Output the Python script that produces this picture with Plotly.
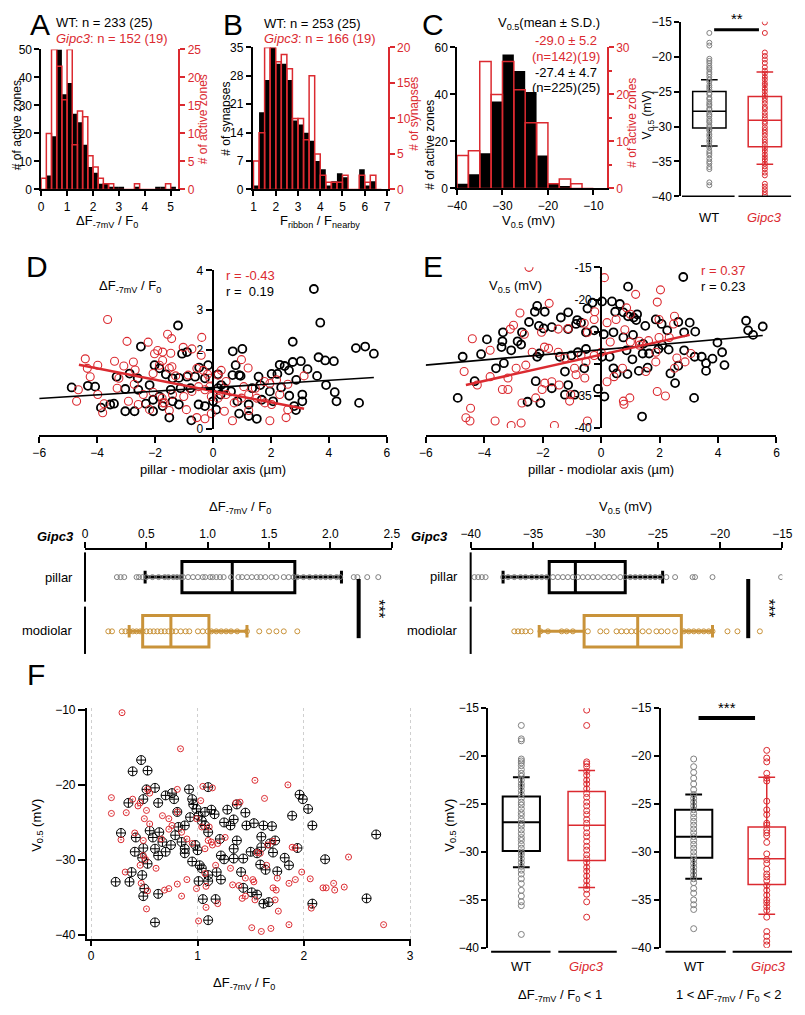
import plotly.graph_objects as go

W, H = 805, 1015
RED = "#DB2A30"
GOLD = "#C9933A"
GRAY = "#808080"
FONT = "Arial, Liberation Sans, sans-serif"

# ---------------- data ----------------
# A: dF/F0 histogram (bin centres, counts)
A_bins = [0.1, 0.3, 0.5, 0.7, 0.9, 1.1, 1.3, 1.5, 1.7, 1.9, 2.1, 2.3, 2.5, 2.7, 2.9, 3.1,
          3.3, 3.5, 3.7, 3.9, 4.1, 4.3, 4.5, 4.7, 4.9, 5.1]
A_wt = [0, 5, 19, 50, 34, 38, 27, 24, 16, 8, 6, 2, 2, 1, 1, 1, 0, 0, 1, 0, 0, 0, 1, 1, 0, 1]
A_ko = [2, 10, 25, 22, 16, 25, 8, 14, 13, 6, 4, 2, 1, 1, 0, 0, 0, 0, 1, 0, 0, 0, 0, 0, 1, 0]

# B: F_ribbon / F_nearby histogram
B_bins = [1.125, 1.375, 1.625, 1.875, 2.125, 2.375, 2.625, 2.875, 3.125, 3.375, 3.625, 3.875,
          4.125, 4.375, 4.625, 4.875, 5.125, 5.375, 5.625, 5.875, 6.125, 6.375, 6.625]
B_wt = [1, 19, 27, 35, 31, 31, 27, 17, 16, 14, 12, 7, 5, 1, 2, 4, 3, 0, 0, 5, 1, 2, 0]
B_ko = [4, 8, 20, 20, 18, 19, 17, 10, 10, 7, 16, 5, 2, 1, 1, 1, 2, 0, 0, 2, 1, 2, 0]

# C: V0.5 histogram
C_bins = [-38.75, -36.25, -33.75, -31.25, -28.75, -26.25, -23.75, -21.25, -18.75, -16.25, -13.75, -11.25]
C_wt = [2, 6, 15, 37, 57, 50, 41, 14, 2, 1, 0, 0]
C_ko = [7, 8, 27, 20, 27, 21, 14, 14, 1, 2, 1, 0]

# C right: box stats (q1, median, q3, lower whisker, upper whisker) and points
CB_wt_stats = [-30.2, -27.8, -25.0, -32.8, -23.3]
CB_ko_stats = [-32.9, -29.1, -25.7, -35.4, -22.2]
CB_wt_pts = [-16.6, -18.0, -18.4, -20.3, -20.6, -20.9, -21.3, -21.6, -21.8, -22.2, -22.5, -22.9,
             -23.3, -23.6, -24.1, -24.4, -24.7, -25.2, -25.4, -25.9, -26.1, -26.5, -26.8, -27.0,
             -27.4, -27.6, -28.0, -28.3, -28.5, -28.9, -29.2, -29.4, -29.8, -30.1, -30.4, -30.6,
             -31.1, -31.4, -31.9, -32.2, -32.7, -33.0, -33.5, -33.8, -34.1, -34.6, -35.0, -35.3,
             -35.8, -36.1, -38.0, -38.4]
CB_ko_pts = [-15.1, -16.6, -19.4, -19.9, -20.4, -20.9, -21.5, -22.0, -22.4, -22.9, -23.3, -23.8,
             -24.1, -24.6, -25.0, -25.5, -25.9, -26.3, -26.7, -27.2, -27.5, -28.0, -28.4, -28.8,
             -29.3, -29.6, -30.1, -30.5, -30.9, -31.3, -31.8, -32.2, -32.6, -33.1, -33.5, -34.0,
             -34.4, -34.8, -35.3, -35.7, -36.1, -36.6, -37.0, -38.2, -38.6, -39.0, -39.4, -39.8]

# D: dF/F0 vs pillar-modiolar position (x, y)
D_wt = [(-1.21, 2.61), (3.48, 3.53), (3.70, 2.68), (2.75, 2.20), (4.93, 2.04), (5.25, 2.08), (5.55, 1.90),
        (3.64, 1.81), (3.87, 1.73), (4.17, 1.71), (1.01, 2.02), (0.68, 1.96), (-2.49, 2.08), (-0.90, 1.94),
        (-1.07, 1.90), (-0.17, 1.61), (-0.48, 1.55), (-2.02, 1.61), (-1.85, 1.53), (2.75, 1.69), (3.03, 1.71),
        (2.30, 1.62), (2.47, 1.59), (2.22, 1.39), (2.02, 1.39), (0.17, 1.38), (0.78, 1.61), (0.95, 1.34),
        (1.57, 1.32), (2.62, 1.48), (2.87, 1.24), (3.26, 1.51), (3.59, 1.34), (3.90, 1.11), (4.20, 0.93),
        (4.26, 0.70), (5.04, 0.66), (-4.88, 1.05), (-4.32, 1.09), (-4.07, 1.07), (-3.33, 1.32), (-2.88, 1.40),
        (-2.60, 1.28), (-3.03, 1.01), (-2.58, 0.99), (-2.19, 1.11), (-1.63, 1.38), (-1.40, 1.28), (-1.18, 1.29),
        (-0.90, 1.32), (-0.62, 1.32), (-0.28, 1.28), (-1.12, 1.03), (-0.78, 1.03), (-1.46, 0.99), (-1.85, 0.82),
        (-2.07, 0.74), (-3.87, 0.54), (-3.55, 0.62), (-3.42, 0.64), (-3.03, 0.45), (-2.71, 0.45), (-2.32, 0.64),
        (-2.07, 0.45), (-1.74, 0.58), (-1.51, 0.29), (-1.40, 0.70), (-1.18, 0.62), (-0.75, 0.22), (-0.50, 0.62),
        (-0.28, 0.58), (0.00, 0.70), (0.11, 0.49), (0.26, 0.87), (0.39, 1.03), (0.62, 0.95), (0.84, 0.70),
        (0.90, 0.39), (1.23, 0.33), (1.51, 0.26), (1.23, 0.62), (1.68, 0.74), (1.96, 0.95), (2.35, 1.05),
        (2.63, 0.84), (3.08, 0.87), (3.08, 0.70), (2.86, 0.48), (2.80, 0.58), (2.07, 0.70), (1.35, 1.03),
        (1.63, 1.11), (0.17, 1.03), (0.28, 1.11), (0.67, 1.36), (0.90, 1.36)]
D_ko = [(-3.64, 2.76), (-2.97, 2.21), (-2.24, 2.19), (-1.57, 2.39), (-1.43, 2.28), (-0.39, 2.31), (-1.91, 1.98),
        (-1.74, 1.94), (-2.02, 1.90), (-1.46, 1.91), (-1.03, 2.06), (-0.73, 2.02), (-0.41, 1.86), (0.98, 1.75),
        (-4.41, 1.77), (-4.34, 1.53), (-4.24, 1.32), (-3.98, 1.61), (-3.40, 1.71), (-3.08, 1.59), (-2.75, 1.69),
        (-2.69, 1.49), (-2.07, 1.40), (-1.85, 1.61), (-1.74, 1.73), (-1.51, 1.53), (-1.42, 1.57), (-1.29, 1.34),
        (-0.86, 1.36), (-0.56, 1.53), (-0.34, 1.48), (-0.19, 1.38), (-0.11, 1.28), (0.17, 1.36), (0.28, 1.48),
        (1.21, 1.54), (1.77, 1.20), (2.19, 1.24), (2.58, 1.13), (3.14, 1.34), (-4.65, 0.99), (-4.71, 0.70),
        (-3.31, 1.03), (-3.25, 1.28), (-2.72, 1.13), (-2.41, 0.87), (-2.07, 0.93), (-1.76, 0.78), (-1.68, 0.66),
        (-1.40, 0.87), (-1.01, 0.82), (-0.73, 0.95), (-0.50, 1.07), (-0.28, 0.99), (-0.06, 0.82), (0.17, 0.78),
        (0.45, 0.87), (0.73, 0.66), (0.98, 0.78), (1.23, 0.87), (1.51, 0.78), (1.79, 0.66), (2.02, 0.62),
        (2.30, 0.87), (2.58, 0.49), (2.52, 0.29), (1.96, 0.21), (1.23, 0.47), (0.67, 0.21), (0.39, 0.45),
        (-0.06, 0.39), (-0.28, 0.26), (-0.56, 0.29), (-0.92, 0.49), (-1.51, 0.47), (-1.74, 0.66), (-2.19, 0.49),
        (-2.58, 0.62), (-2.92, 0.70), (-3.81, 0.41), (-3.76, 0.64), (-3.98, 0.87), (-0.11, 1.07), (0.45, 1.20),
        (1.06, 1.07), (1.46, 1.03), (1.96, 1.15)]
D_fit_wt = [(-6.0, 0.77), (5.55, 1.30)]
D_fit_ko = [(-4.63, 1.62), (3.14, 0.51)]

# E: V0.5 vs pillar-modiolar position
E_wt = [(2.81, -16.5), (0.92, -18.0), (-2.19, -21.0), (-2.27, -21.9), (-1.93, -21.9), (-0.30, -20.5), (0.03, -20.3),
        (0.37, -20.3), (0.64, -20.7), (-0.47, -21.4), (0.48, -21.9), (0.76, -22.0), (0.92, -22.6), (1.11, -22.8),
        (1.23, -22.3), (1.20, -23.2), (-1.13, -22.0), (-1.38, -22.8), (-0.82, -23.2), (-0.69, -23.6), (-2.47, -23.5),
        (-2.13, -24.1), (-1.97, -24.5), (-1.69, -24.3), (-3.36, -25.1), (-2.71, -25.1), (-3.91, -26.2), (-3.38, -26.5),
        (-2.86, -26.5), (-2.74, -27.0), (-3.08, -27.9), (-3.41, -27.4), (-4.11, -28.5), (-4.74, -28.9), (-2.19, -28.9),
        (-2.11, -28.4), (-1.13, -24.6), (-0.86, -23.8), (-0.52, -25.1), (-0.24, -24.8), (0.09, -25.4), (0.42, -25.1),
        (0.76, -25.9), (1.09, -25.5), (1.51, -24.1), (1.44, -26.9), (1.87, -23.1), (2.07, -23.8), (2.26, -24.8),
        (2.64, -23.5), (3.03, -23.6), (3.22, -25.0), (2.84, -25.1), (2.09, -27.1), (2.31, -27.8), (2.84, -27.9),
        (3.20, -28.9), (3.44, -28.9), (3.81, -29.2), (4.14, -28.2), (3.59, -29.9), (3.59, -31.1), (4.22, -30.2),
        (4.96, -23.3), (5.03, -24.8), (5.53, -24.2), (5.20, -25.5), (3.98, -26.7), (2.64, -30.3), (2.37, -31.5),
        (2.53, -33.0), (3.18, -35.3), (1.40, -38.2), (-4.33, -32.7), (-4.91, -35.3), (-3.60, -30.7), (-3.33, -29.9),
        (-2.52, -35.9), (-2.08, -36.1), (-2.24, -32.7), (-1.69, -33.8), (-1.24, -31.2), (-1.13, -33.3), (-0.91, -34.8),
        (-1.24, -34.8), (-0.52, -27.7), (-0.11, -33.9), (0.11, -35.1), (-0.80, -28.2), (-1.02, -28.7), (-1.41, -28.9),
        (0.03, -28.9), (0.29, -28.9), (0.42, -30.7), (0.53, -31.5), (0.90, -31.6), (1.29, -31.1), (1.59, -30.6),
        (0.87, -27.9), (1.07, -29.3), (1.42, -28.4), (1.64, -28.4), (1.96, -27.7), (-0.58, -30.7)]
E_ko = [(-2.47, -15.0), (0.11, -16.6), (1.18, -19.2), (2.03, -18.5), (1.92, -20.4), (-1.78, -20.6), (0.87, -21.3),
        (1.00, -22.3), (-0.22, -21.9), (2.51, -22.6), (1.98, -23.1), (-2.78, -22.1), (-3.00, -24.0), (-3.11, -24.6),
        (-4.41, -26.1), (-3.80, -27.9), (-2.63, -25.4), (-2.04, -25.1), (-1.47, -24.6), (-1.13, -24.5), (-0.58, -23.7),
        (-0.47, -25.1), (-0.24, -23.1), (0.20, -23.6), (0.51, -23.1), (0.81, -24.7), (1.31, -26.5), (1.62, -26.4),
        (1.98, -25.9), (2.33, -25.9), (2.48, -23.8), (2.59, -29.1), (1.87, -28.2), (1.87, -29.7), (2.87, -29.7),
        (3.07, -28.4), (0.31, -26.6), (0.00, -28.2), (-0.24, -28.7), (-0.52, -29.7), (-0.69, -28.7), (-0.91, -30.7),
        (-1.24, -29.1), (-1.47, -28.2), (-1.80, -27.6), (-1.94, -27.4), (-2.36, -28.2), (-2.58, -30.2), (-2.91, -30.7),
        (-3.19, -32.2), (-3.38, -34.0), (-3.19, -34.0), (-3.80, -32.0), (-4.24, -33.3), (-4.69, -31.2), (-4.47, -36.9),
        (-4.63, -38.4), (-4.49, -38.9), (-3.63, -38.9), (-3.08, -39.6), (-2.74, -39.2), (-2.71, -36.1), (-2.24, -35.3),
        (-2.02, -34.0), (-1.93, -33.0), (-1.69, -32.8), (-1.44, -33.3), (-1.08, -35.8), (-1.04, -34.8), (-1.60, -39.6),
        (-0.47, -38.9), (-0.86, -31.7), (-0.56, -32.2), (0.20, -32.8), (0.44, -32.0), (0.73, -30.7), (0.76, -35.8),
        (0.78, -36.3), (0.98, -35.3), (1.92, -34.3), (2.20, -35.0), (2.51, -30.7), (1.53, -31.2), (1.00, -26.6),
        (1.31, -27.1)]
E_fit_wt = [(-6.02, -30.2), (5.53, -25.6)]
E_fit_ko = [(-4.63, -33.3), (3.03, -25.5)]

# D/E lower: pillar vs modiolar (Gipc3) box stats and points
DB_pil_stats = [0.79, 1.20, 1.71, 0.49, 2.09]
DB_mod_stats = [0.47, 0.70, 1.01, 0.36, 1.32]
DB_pil_pts = [0.26, 0.29, 0.32, 0.42, 0.44, 0.47, 0.50, 0.55, 0.60, 0.65, 0.68, 0.72, 0.75, 0.78, 0.80, 0.84,
              0.88, 0.92, 0.96, 0.98, 1.02, 1.04, 1.07, 1.10, 1.13, 1.19, 1.25, 1.28, 1.32, 1.36, 1.40, 1.43,
              1.47, 1.52, 1.56, 1.62, 1.66, 1.70, 1.73, 1.78, 1.83, 1.88, 1.92, 1.96, 2.00, 2.05, 2.08, 2.19,
              2.22, 2.30, 2.39]
DB_mod_pts = [0.19, 0.22, 0.30, 0.33, 0.36, 0.39, 0.42, 0.45, 0.47, 0.50, 0.53, 0.56, 0.59, 0.62, 0.65, 0.68,
              0.71, 0.74, 0.78, 0.82, 0.85, 0.92, 0.96, 1.00, 1.03, 1.07, 1.11, 1.15, 1.19, 1.24, 1.32, 1.42,
              1.50, 1.56, 1.62, 1.73]
EB_pil_stats = [-33.7, -31.6, -27.6, -37.4, -24.6]
EB_mod_stats = [-30.9, -26.6, -23.1, -34.5, -20.6]
EB_pil_pts = [-39.7, -39.4, -39.1, -38.8, -37.4, -37.0, -36.5, -36.0, -35.6, -35.1, -34.7, -34.3, -33.9, -33.4,
              -33.0, -32.6, -32.2, -31.8, -31.4, -31.0, -30.6, -30.2, -29.8, -29.3, -28.9, -28.5, -28.0, -27.6,
              -27.2, -26.8, -26.4, -26.0, -25.6, -25.2, -24.8, -24.3, -23.6, -22.2, -22.0, -20.6, -15.1]
EB_mod_pts = [-36.5, -36.2, -35.9, -35.6, -35.2, -34.4, -33.8, -32.7, -32.3, -31.8, -30.6, -29.6, -29.1, -28.3,
              -27.9, -27.5, -27.1, -26.7, -26.2, -25.7, -25.1, -24.7, -24.2, -23.6, -22.9, -22.5, -22.1, -21.7,
              -21.3, -20.9, -20.6, -19.4, -18.6, -16.8]

# F: V0.5 vs dF/F0
F_wt = [(0.47, -16.7), (0.39, -18.2), (0.53, -18.1), (0.35, -22.4), (0.49, -21.9), (0.52, -20.6), (0.60, -20.4),
        (0.92, -20.6), (1.10, -20.3), (0.63, -22.4), (0.70, -21.4), (0.76, -21.1), (0.78, -21.9), (0.95, -21.9),
        (0.96, -22.6), (0.99, -23.2), (1.07, -23.6), (1.13, -23.3), (1.16, -23.9), (1.28, -23.3), (1.37, -22.6),
        (1.45, -23.7), (1.34, -24.6), (1.25, -25.0), (1.31, -25.4), (1.53, -25.1), (1.62, -25.4), (1.70, -25.5),
        (1.46, -25.4), (1.89, -24.1), (1.96, -21.3), (1.99, -21.9), (2.04, -23.2), (2.08, -25.4), (2.68, -26.6),
        (0.28, -26.4), (0.42, -27.0), (0.41, -28.9), (0.49, -28.4), (0.48, -29.7), (0.38, -31.6), (0.23, -32.9),
        (0.36, -32.9), (0.48, -32.0), (0.49, -34.8), (0.50, -33.8), (0.63, -34.5), (0.60, -38.3), (0.55, -26.1),
        (0.58, -27.0), (0.64, -26.3), (0.67, -27.6), (0.60, -28.5), (0.53, -30.5), (0.63, -29.4), (0.70, -28.9),
        (0.75, -28.0), (0.79, -26.7), (0.82, -25.6), (0.88, -25.4), (0.93, -24.3), (1.01, -24.1), (1.04, -24.8),
        (1.07, -25.4), (1.10, -26.3), (0.81, -23.6), (0.85, -27.6), (0.88, -29.1), (0.88, -28.5), (0.98, -28.0),
        (1.00, -28.7), (0.95, -30.2), (1.02, -30.7), (1.04, -31.1), (1.10, -32.0), (1.01, -32.8), (1.10, -32.8),
        (1.22, -32.6), (1.18, -31.6), (1.05, -35.2), (1.17, -35.2), (1.10, -38.0), (1.21, -27.2), (1.22, -29.4),
        (1.25, -29.9), (1.34, -29.8), (1.34, -28.5), (1.37, -27.4), (1.43, -29.8), (1.41, -31.6), (1.43, -33.7),
        (1.51, -34.3), (1.56, -34.6), (1.60, -26.9), (1.60, -28.3), (1.56, -29.1), (1.50, -28.9), (1.59, -30.6),
        (1.64, -31.3), (1.62, -35.8), (1.67, -35.6), (1.75, -31.5), (1.71, -29.0), (1.68, -27.8), (1.73, -27.4),
        (1.82, -29.7), (1.86, -30.7), (1.94, -28.4), (2.20, -29.9), (2.08, -35.8), (2.59, -35.1)]
F_ko = [(0.29, -10.4), (0.84, -15.2), (1.54, -19.4), (1.85, -20.0), (0.19, -21.7), (0.19, -23.8), (0.33, -23.7),
        (0.39, -21.9), (0.46, -22.4), (0.44, -22.8), (0.53, -20.6), (0.55, -21.1), (0.81, -20.6), (1.03, -22.1),
        (1.05, -20.2), (1.14, -20.4), (1.40, -22.3), (1.63, -21.8), (0.28, -27.3), (0.41, -26.4), (0.49, -27.4),
        (0.52, -23.4), (0.50, -24.5), (0.55, -25.2), (0.49, -29.4), (0.51, -29.9), (0.46, -30.7), (0.32, -31.6),
        (0.47, -33.1), (0.53, -34.1), (0.52, -36.5), (0.61, -31.1), (0.69, -34.0), (0.73, -33.8), (0.81, -33.2),
        (0.85, -34.8), (0.90, -32.6), (0.66, -27.2), (0.67, -24.1), (0.73, -24.5), (0.76, -25.4), (0.73, -25.9),
        (0.81, -23.6), (0.85, -26.3), (0.90, -27.2), (0.95, -27.8), (0.99, -24.5), (1.04, -25.6), (1.07, -28.5),
        (1.10, -27.4), (1.14, -28.0), (1.19, -27.8), (1.17, -30.7), (1.07, -31.8), (0.99, -33.8), (1.08, -33.5),
        (1.08, -36.3), (1.19, -35.8), (1.01, -38.1), (1.11, -25.6), (1.26, -27.0), (1.31, -31.1), (1.33, -33.3),
        (1.39, -33.4), (1.42, -35.1), (1.45, -34.8), (1.45, -32.4), (1.52, -32.6), (1.53, -32.9), (1.54, -35.3),
        (1.51, -39.0), (1.60, -39.5), (1.69, -39.1), (1.59, -29.1), (1.65, -30.7), (1.71, -33.7), (1.74, -34.0),
        (1.75, -32.4), (1.73, -35.3), (1.76, -36.8), (1.86, -33.1), (1.92, -32.6), (1.86, -38.6), (1.98, -31.6),
        (2.06, -32.5), (2.07, -36.4), (2.18, -33.7), (2.21, -33.7), (2.28, -33.1), (2.29, -34.0), (2.38, -33.6),
        (2.42, -29.6), (2.75, -38.6), (1.89, -28.3), (1.92, -28.4), (1.66, -28.0), (1.71, -27.5), (1.56, -29.0),
        (1.36, -22.4), (1.13, -27.6)]

# F boxes: dF/F0 < 1 and 1 < dF/F0 < 2
F1_wt_stats = [-29.9, -26.9, -24.2, -31.6, -22.2]
F1_ko_stats = [-30.9, -27.2, -23.7, -33.7, -21.5]
F1_wt_pts = [-16.8, -18.2, -18.4, -20.3, -20.5, -20.7, -21.0, -21.4, -21.8, -22.1, -22.5, -22.9, -23.2, -23.6,
             -24.0, -24.4, -24.8, -25.1, -25.5, -25.9, -26.2, -26.6, -27.0, -27.3, -27.7, -28.1, -28.5, -28.8,
             -29.2, -29.6, -30.0, -30.3, -30.7, -31.1, -31.5, -31.9, -32.3, -32.8, -33.3, -34.0, -34.6, -35.2,
             -35.6, -38.6]
F1_ko_pts = [-15.2, -16.8, -20.6, -20.8, -21.1, -21.6, -22.0, -22.5, -22.9, -23.4, -23.9, -24.3, -24.8, -25.2,
             -25.7, -26.1, -26.6, -27.0, -27.5, -28.0, -28.4, -28.9, -29.4, -29.8, -30.3, -30.7, -31.1, -31.6,
             -32.0, -32.5, -33.0, -33.5, -33.9, -34.4, -35.2, -36.8]
F2_wt_stats = [-30.6, -28.4, -25.6, -32.8, -24.0]
F2_ko_stats = [-33.4, -30.7, -27.4, -36.5, -22.2]
F2_wt_pts = [-20.3, -21.1, -21.7, -22.3, -22.9, -23.5, -24.0, -24.4, -24.8, -25.2, -25.6, -26.0, -26.4, -26.8,
             -27.2, -27.6, -28.0, -28.4, -28.8, -29.2, -29.6, -30.0, -30.4, -30.8, -31.2, -31.6, -32.0, -32.4,
             -32.8, -33.2, -33.8, -34.3, -35.0, -35.5, -36.0, -38.0]
F2_ko_pts = [-19.4, -20.2, -20.6, -21.8, -22.3, -22.6, -24.7, -25.6, -26.1, -27.0, -27.2, -27.7, -28.0, -28.3,
             -29.0, -30.2, -30.8, -31.2, -31.8, -32.3, -32.6, -33.0, -33.5, -34.0, -34.5, -35.0, -35.3, -35.7,
             -36.1, -36.8, -38.3, -38.8, -39.3, -39.7]


# ---------------- helpers ----------------
def dx(a, b):
    return [a / W, b / W]


def dy(top, bot):
    return [1 - bot / H, 1 - top / H]


def px(x):
    return x / W


def py(y):
    return 1 - y / H


def axis(**kw):
    base = dict(showline=True, linecolor="black", linewidth=1.5, ticks="outside", ticklen=5,
                tickwidth=1.5, tickcolor="black", tickfont=dict(size=12, color="black", family=FONT),
                showgrid=False, zeroline=False)
    base.update(kw)
    return base


def red_axis(**kw):
    return axis(linecolor=RED, tickcolor=RED, tickfont=dict(size=12, color=RED, family=FONT), **kw)


def ann(text, x, y, size=13, color="black", xanchor="center", angle=0):
    return dict(text=text, x=px(x), y=py(y), xref="paper", yref="paper", showarrow=False,
                font=dict(size=size, color=color, family=FONT), xanchor=xanchor, yanchor="middle",
                textangle=angle)


def seg(x0, y0, x1, y1, width=1.5):
    return dict(type="line", xref="paper", yref="paper", x0=px(x0), y0=py(y0), x1=px(x1), y1=py(y1),
                line=dict(color="black", width=width))


def xs(pts):
    return [p[0] for p in pts]


def ys(pts):
    return [p[1] for p in pts]


def vbox(pos, stats, color, xa, ya, width=0.6, lw=1.5, ww=0.5):
    q1, med, q3, lo, hi = stats
    return go.Box(x=[pos], q1=[q1], median=[med], q3=[q3], lowerfence=[lo], upperfence=[hi],
                  width=width, whiskerwidth=ww, line=dict(color=color, width=lw),
                  fillcolor="rgba(0,0,0,0)", boxpoints=False, xaxis=xa, yaxis=ya, hoverinfo="skip")


def hbox(pos, stats, color, xa, ya):
    q1, med, q3, lo, hi = stats
    return go.Box(y=[pos], q1=[q1], median=[med], q3=[q3], lowerfence=[lo], upperfence=[hi],
                  orientation="h", width=0.58, whiskerwidth=0.4, line=dict(color=color, width=3),
                  fillcolor="rgba(0,0,0,0)", boxpoints=False, xaxis=xa, yaxis=ya, hoverinfo="skip")


def dots(pos, vals, color, xa, ya, size=5, horizontal=False):
    p = [pos] * len(vals)
    x, y = (vals, p) if horizontal else (p, vals)
    return go.Scatter(x=x, y=y, mode="markers", xaxis=xa, yaxis=ya, hoverinfo="skip",
                      marker=dict(symbol="circle-open", size=size, color=color, line=dict(width=1)))


fig = go.Figure()

# ---- histograms A, B, C ----
for bins, wt, ko, w, xa, ya, ya2 in [(A_bins, A_wt, A_ko, 0.2, "x", "y", "y2"),
                                      (B_bins, B_wt, B_ko, 0.25, "x3", "y3", "y4"),
                                      (C_bins, C_wt, C_ko, 2.5, "x5", "y5", "y6")]:
    fig.add_trace(go.Bar(x=bins, y=wt, width=w, marker=dict(color="black", line=dict(width=0)),
                         xaxis=xa, yaxis=ya))
    fig.add_trace(go.Bar(x=bins, y=ko, width=w,
                         marker=dict(color="rgba(0,0,0,0)", line=dict(color=RED, width=1.5)),
                         xaxis=xa, yaxis=ya2))

# ---- C box ----
fig.add_trace(vbox(0, CB_wt_stats, "black", "x7", "y7"))
fig.add_trace(vbox(1, CB_ko_stats, RED, "x7", "y7"))
fig.add_trace(dots(0, CB_wt_pts, GRAY, "x7", "y7"))
fig.add_trace(dots(1, CB_ko_pts, RED, "x7", "y7"))

# ---- D and E scatter ----
for wt, ko, fw, fk, xa, ya in [(D_wt, D_ko, D_fit_wt, D_fit_ko, "x8", "y8"),
                               (E_wt, E_ko, E_fit_wt, E_fit_ko, "x9", "y9")]:
    fig.add_trace(go.Scatter(x=xs(wt), y=ys(wt), mode="markers", xaxis=xa, yaxis=ya,
                             marker=dict(symbol="circle-open", size=8, color="black", line=dict(width=1.8))))
    fig.add_trace(go.Scatter(x=xs(ko), y=ys(ko), mode="markers", xaxis=xa, yaxis=ya,
                             marker=dict(symbol="circle-open", size=8, color=RED, line=dict(width=1.1))))
    fig.add_trace(go.Scatter(x=xs(fw), y=ys(fw), mode="lines", xaxis=xa, yaxis=ya,
                             line=dict(color="black", width=1.6)))
    fig.add_trace(go.Scatter(x=xs(fk), y=ys(fk), mode="lines", xaxis=xa, yaxis=ya,
                             line=dict(color=RED, width=2.5)))

# ---- D/E lower box plots ----
for pil_s, mod_s, pil_p, mod_p, xa, ya in [(DB_pil_stats, DB_mod_stats, DB_pil_pts, DB_mod_pts, "x10", "y10"),
                                           (EB_pil_stats, EB_mod_stats, EB_pil_pts, EB_mod_pts, "x11", "y11")]:
    fig.add_trace(hbox(1, pil_s, "black", xa, ya))
    fig.add_trace(hbox(0, mod_s, GOLD, xa, ya))
    fig.add_trace(dots(1, pil_p, GRAY, xa, ya, size=5, horizontal=True))
    fig.add_trace(dots(0, mod_p, GOLD, xa, ya, size=5, horizontal=True))

# ---- F scatter ----
fig.add_trace(go.Scatter(x=xs(F_wt), y=ys(F_wt), mode="markers", xaxis="x12", yaxis="y12",
                         marker=dict(symbol="circle-cross-open", size=9, color="black", line=dict(width=1))))
fig.add_trace(go.Scatter(x=xs(F_ko), y=ys(F_ko), mode="markers", xaxis="x12", yaxis="y12",
                         marker=dict(symbol="circle-open-dot", size=6, color=RED, line=dict(width=1))))

# ---- F boxes ----
for wst, kst, wp, kp, xa, ya, bw in [(F1_wt_stats, F1_ko_stats, F1_wt_pts, F1_ko_pts, "x13", "y13", 0.57),
                                     (F2_wt_stats, F2_ko_stats, F2_wt_pts, F2_ko_pts, "x14", "y14", 0.51)]:
    fig.add_trace(vbox(0, wst, "black", xa, ya, width=bw, lw=2, ww=0.45))
    fig.add_trace(vbox(1, kst, RED, xa, ya, width=bw, lw=1.5, ww=0.45))
    fig.add_trace(dots(0, wp, GRAY, xa, ya, size=6))
    fig.add_trace(dots(1, kp, RED, xa, ya, size=6))

hidden_x = dict(visible=False)

fig.update_layout(
    width=W, height=H, autosize=False, showlegend=False,
    margin=dict(l=0, r=0, t=0, b=0),
    paper_bgcolor="white", plot_bgcolor="rgba(0,0,0,0)",
    barmode="overlay",
    font=dict(family=FONT, size=12, color="black"),
    # A
    xaxis=axis(domain=dx(32, 173), range=[0, 5.3], tickvals=[0, 1, 2, 3, 4, 5], anchor="y"),
    yaxis=axis(domain=dy(43, 185), range=[0, 50], dtick=10, anchor="x"),
    yaxis2=red_axis(overlaying="y", side="right", anchor="x", range=[0, 25], dtick=5),
    # B
    xaxis3=axis(domain=dx(249, 388), range=[0.956, 7.04], tickvals=[1, 2, 3, 4, 5, 6, 7], anchor="y3"),
    yaxis3=axis(domain=dy(41, 185), range=[0, 35], dtick=7, anchor="x3"),
    yaxis4=red_axis(overlaying="y3", side="right", anchor="x3", range=[0, 20], dtick=5),
    # C
    xaxis5=axis(domain=dx(459, 613), range=[-40, -7], tickvals=[-40, -30, -20, -10], anchor="y5"),
    yaxis5=axis(domain=dy(41, 184), range=[0, 60], dtick=20, anchor="x5"),
    yaxis6=red_axis(overlaying="y5", side="right", anchor="x5", range=[0, 30], dtick=10,
                    minor=dict(dtick=5, ticks="outside", ticklen=3, tickcolor=RED)),
    # C box
    xaxis7=dict(domain=dx(689, 803), range=[-0.51, 1.49], anchor="y7", **hidden_x),
    yaxis7=axis(domain=dy(15, 192), range=[-40, -15], dtick=5, anchor="x7"),
    # D
    xaxis8=axis(domain=dx(30, 387), range=[-6, 6], dtick=2, anchor="free", position=py(435),
                linewidth=2, tickwidth=2, ticklen=6),
    yaxis8=axis(domain=dy(267, 428), range=[0, 4], anchor="free", position=px(208),
                tickvals=[0, 1, 2, 3, 4], ticktext=["0", "", "2", "3", "4"],
                linewidth=2, tickwidth=2, ticklen=6),
    # E
    xaxis9=axis(domain=dx(427, 787), range=[-6, 6], dtick=2, anchor="free", position=py(435),
                linewidth=2, tickwidth=2, ticklen=6),
    yaxis9=axis(domain=dy(264, 427), range=[-40, -15], anchor="free", position=px(607),
                tickvals=[-40, -35, -30, -25, -20, -15], ticktext=["-40", "-35", "", "", "-20", "-15"],
                linewidth=2, tickwidth=2, ticklen=6),
    # D lower
    xaxis10=axis(domain=dx(77, 392), range=[0, 2.5], side="top", anchor="free", position=py(550),
                 tickvals=[0, 0.5, 1, 1.5, 2, 2.5], ticktext=["0", "0.5", "1.0", "1.5", "2.0", "2.5"],
                 linewidth=2, tickwidth=2, ticklen=6),
    yaxis10=dict(domain=dy(555, 660), range=[-0.49, 1.42], anchor="x10", visible=False),
    # E lower
    xaxis11=axis(domain=dx(473, 793), range=[-40, -15], side="top", anchor="free", position=py(550),
                 dtick=5, linewidth=2, tickwidth=2, ticklen=6),
    yaxis11=dict(domain=dy(555, 660), range=[-0.49, 1.42], anchor="x11", visible=False),
    # F scatter
    xaxis12=axis(domain=dx(79, 412), range=[-0.04, 3.01], tickvals=[0, 1, 2, 3], anchor="y12",
                 showgrid=True, gridcolor="#CFCFCF", griddash="dot", gridwidth=1, linewidth=2),
    yaxis12=axis(domain=dy(711, 945), range=[-40.5, -9.8], tickvals=[-40, -30, -20, -10], anchor="x12",
                 linewidth=2, ticklen=7),
    # F boxes
    xaxis13=dict(domain=dx(491, 625), range=[-0.507, 1.49], anchor="y13", **hidden_x),
    yaxis13=axis(domain=dy(711, 954), range=[-40, -15], dtick=5, anchor="x13"),
    xaxis14=dict(domain=dx(668, 805), range=[-0.453, 1.373], anchor="y14", **hidden_x),
    yaxis14=axis(domain=dy(711, 954), range=[-40, -15], dtick=5, anchor="x14"),
)

DF = "ΔF<sub>-7mV</sub> / F<sub>0</sub>"
V05 = "V<sub>0.5</sub> (mV)"

annotations = [
    # panel letters
    ann("A", 31, 18, size=30), ann("B", 229, 18, size=30), ann("C", 434, 18, size=30),
    ann("D", 28, 263, size=30), ann("E", 434, 263, size=30), ann("F", 27, 677, size=30),
    # A
    ann("WT: n = 233 (25)", 45, 16, xanchor="left"),
    ann("<i>Gipc3</i>: n = 152 (19)", 45, 32, color=RED, xanchor="left"),
    ann("# of active zones", 8, 120, size=12, angle=-90),
    ann("# of active zones", 199, 114, size=12, color=RED, angle=-90),
    ann(DF, 100, 218),
    # B
    ann("WT: n = 253 (25)", 259, 17, xanchor="left"),
    ann("<i>Gipc3</i>: n = 166 (19)", 259, 32, color=RED, xanchor="left"),
    ann("# of synapses", 222, 113, size=12, angle=-90),
    ann("# of synapses", 414, 108, size=12, color=RED, angle=-90),
    ann("F<sub>ribbon</sub> / F<sub>nearby</sub>", 318, 218),
    # C
    ann("V<sub>0.5</sub>(mean ± S.D.)", 553, 17),
    ann("-29.0 ± 5.2", 571, 34, color=RED),
    ann("(n=142)(19)", 571, 50, color=RED),
    ann("-27.4 ± 4.7", 571, 66),
    ann("(n=225)(25)", 571, 82),
    ann("# of active zones", 431, 140, size=12, angle=-90),
    ann("# of active zones", 639, 117, size=12, color=RED, angle=-90),
    ann(V05, 532, 218),
    # C box
    ann("V<sub>0.5</sub> (mV)", 656, 109, size=12, angle=-90),
    ann("WT", 718, 213), ann("<i>Gipc3</i>", 775, 213, color=RED),
    ann("**", 746, 12, size=15),
    # D / E
    ann(DF, 123, 283), ann("r = -0.43", 220, 272, color=RED, xanchor="left"),
    ann("r =  0.19", 220, 288, xanchor="left"),
    ann("pillar - modiolar axis (µm)", 208, 469),
    ann(V05, 519, 283), ann("r = 0.37", 707, 267, color=RED, xanchor="left"),
    ann("r = 0.23", 707, 283, xanchor="left"),
    ann("pillar - modiolar axis (µm)", 607, 469),
    # D/E lower
    ann(DF, 236, 508), ann(V05, 632, 508),
    ann("<b><i>Gipc3</i></b>", 68, 537, xanchor="right"),
    ann("<b><i>Gipc3</i></b>", 452, 537, xanchor="right"),
    ann("pillar", 67, 578, xanchor="right"), ann("modiolar", 67, 632, xanchor="right"),
    ann("pillar", 462, 577, xanchor="right"), ann("modiolar", 462, 632, xanchor="right"),
    ann("***", 378, 610, size=16, angle=90), ann("***", 779, 610, size=16, angle=90),
    # F
    ann(V05, 28, 830, angle=-90), ann(DF, 240, 990),
    ann(V05, 452, 830, angle=-90),
    ann("WT", 525, 973), ann("<i>Gipc3</i>", 592, 973, color=RED),
    ann("WT", 702, 973), ann("<i>Gipc3</i>", 779, 973, color=RED),
    ann(DF + " < 1", 565, 1002), ann("1 < " + DF + " < 2", 738, 1002),
    ann("***", 736, 710, size=15),
]

shapes = [
    # C box baseline segments + significance bar
    seg(690, 192, 744, 192), seg(748, 192, 802, 192), seg(723, 23, 769, 23, width=3),
    # D/E lower left axis segments and significance bars
    seg(77, 553, 77, 603, 2), seg(77, 608, 77, 656, 2),
    seg(473, 553, 473, 603, 2), seg(473, 608, 473, 656, 2),
    seg(358, 580, 358, 640, 4), seg(758, 580, 758, 640, 4),
    # F boxes baselines + significance bar
    seg(494, 958, 555, 958, 2), seg(563, 958, 623, 958, 2),
    seg(673, 958, 735, 958, 2), seg(742, 958, 803, 958, 2),
    seg(707, 721, 765, 721, 4),
]

fig.update_layout(annotations=annotations, shapes=shapes)

fig.write_html("out.html", config={"displayModeBar": False},
               post_script="document.body.style.margin='0';document.body.style.overflow='hidden';")
